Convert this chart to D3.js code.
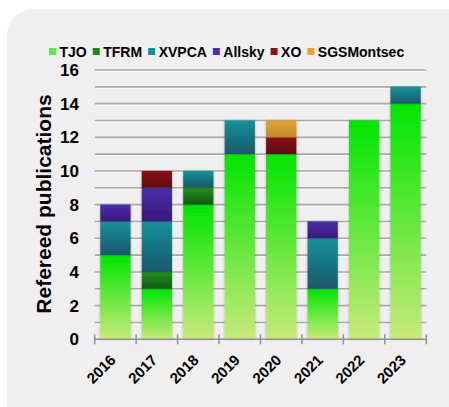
<!DOCTYPE html>
<html><head><meta charset="utf-8">
<script src="https://cdn.jsdelivr.net/npm/d3@7"></script>
<style>body{margin:0;background:#fff;}svg{display:block;font-family:"Liberation Sans",Arial,sans-serif;}</style>
</head><body>
<script>
const years = ["2016","2017","2018","2019","2020","2021","2022","2023"];
const seriesNames = ["TJO","TFRM","XVPCA","Allsky","XO","SGSMontsec"];
const TJO        = [5, 3, 8, 11, 11, 3, 13, 14];
const TFRM       = [0, 1, 1, 0, 0, 0, 0, 0];
const XVPCA      = [2, 3, 1, 2, 0, 3, 0, 1];
const Allsky     = [1, 2, 0, 0, 0, 1, 0, 0];
const XO         = [0, 1, 0, 0, 1, 0, 0, 0];
const SGSMontsec = [0, 0, 0, 0, 1, 0, 0, 0];
const yTicks = [0,2,4,6,8,10,12,14,16];
const colorsTop = ["#00e600","#23901f","#13919a","#4d2dac","#8c1218","#e3a334"];
const colorsBot = ["#c9ea7a","#135a13","#1b5868","#38197a","#5c0a10","#c4862a"];
const legendColors = ["#5ee84a","#23881f","#13919a","#4d2dac","#8c1218","#e3a334"];

const seriesVals = [TJO,TFRM,XVPCA,Allsky,XO,SGSMontsec];
const rows = years.map((y,i)=>{const r={year:y}; seriesNames.forEach((s,k)=>r[s]=seriesVals[k][i]); return r;});

const W=449,H=407;
const svg=d3.select("body").append("svg").attr("width",W).attr("height",H);
const defs=svg.append("defs");
seriesNames.forEach((s,k)=>{
  const g=defs.append("linearGradient").attr("id","g"+k).attr("x1",0).attr("y1",0).attr("x2",0).attr("y2",1);
  g.append("stop").attr("offset","0%").attr("stop-color",colorsTop[k]);
  g.append("stop").attr("offset","100%").attr("stop-color",colorsBot[k]);
});
const f=defs.append("filter").attr("id","sh").attr("x","-20%").attr("y","-5%").attr("width","140%").attr("height","110%");
f.append("feDropShadow").attr("dx",0).attr("dy",0).attr("stdDeviation",1.2).attr("flood-color","#000").attr("flood-opacity",0.3);

svg.append("rect").attr("x",7).attr("y",9).attr("width",470).attr("height",420).attr("rx",26).attr("fill","#efefef");

const x=d3.scaleBand().domain(years).range([94.7,426.3]).paddingInner(0.27).paddingOuter(0.135);
const y=d3.scaleLinear().domain([0,16]).range([339.3,70]);

// gridlines every 1
const grid=svg.append("g");
d3.range(1,17).forEach(v=>{
  grid.append("line").attr("x1",94.7).attr("x2",426.3).attr("y1",y(v)+1.5).attr("y2",y(v)+1.5).attr("stroke","#fafafa").attr("stroke-width",1);
  grid.append("line").attr("x1",94.7).attr("x2",426.3).attr("y1",y(v)).attr("y2",y(v)).attr("stroke","#a9a9a9").attr("stroke-width",1.6);
});

// bars
const stack=d3.stack().keys(seriesNames)(rows);
stack.forEach((layer,k)=>{
  svg.append("g").selectAll("rect").data(layer.filter(d=>d[1]-d[0]>0)).join("rect")
    .attr("x",d=>x(d.data.year)).attr("width",x.bandwidth())
    .attr("y",d=>y(d[1])).attr("height",d=>y(d[0])-y(d[1]))
    .attr("fill","url(#g"+k+")").attr("filter","url(#sh)");
});

// x axis
const xa=svg.append("g");
xa.append("line").attr("x1",94.7).attr("x2",426.3).attr("y1",y(0)).attr("y2",y(0)).attr("stroke","#909090").attr("stroke-width",1.5);
const edges=years.map((yy,i)=>94.7+i*x.step()).concat([426.3]);
edges.forEach(e=>xa.append("line").attr("x1",e).attr("x2",e).attr("y1",y(0)-5).attr("y2",y(0)+5).attr("stroke","#909090").attr("stroke-width",1.5));
years.forEach(yy=>{
  const cx=x(yy)+x.bandwidth()/2-2.5, cy=y(0)+18;
  svg.append("text").attr("transform",`translate(${cx},${cy}) rotate(-45)`).attr("text-anchor","end").attr("dy","0.35em")
    .attr("font-size",15).attr("font-weight","bold").attr("fill","#000").text(yy);
});

// y labels
yTicks.forEach(v=>{
  svg.append("text").attr("x",79).attr("y",y(v)).attr("dy","0.36em").attr("text-anchor","end")
    .attr("font-size",17).attr("font-weight","bold").attr("fill","#000").text(v);
});
svg.append("text").attr("transform","translate(51,204) rotate(-90)").attr("text-anchor","middle")
  .attr("font-size",21).attr("font-weight","bold").attr("fill","#000").text("Refereed publications");

// legend
const lg=svg.append("g");
let lx=49;
seriesNames.forEach((s,k)=>{
  lg.append("rect").attr("x",lx).attr("y",48).attr("width",7).attr("height",7).attr("fill",legendColors[k]);
  const t=lg.append("text").attr("x",lx+10.5).attr("y",52).attr("dy","0.36em").attr("font-size",14).attr("font-weight","bold").attr("fill","#000").text(s);
  lx+=10.5+t.node().getComputedTextLength()+6;
});
</script>
</body></html>
